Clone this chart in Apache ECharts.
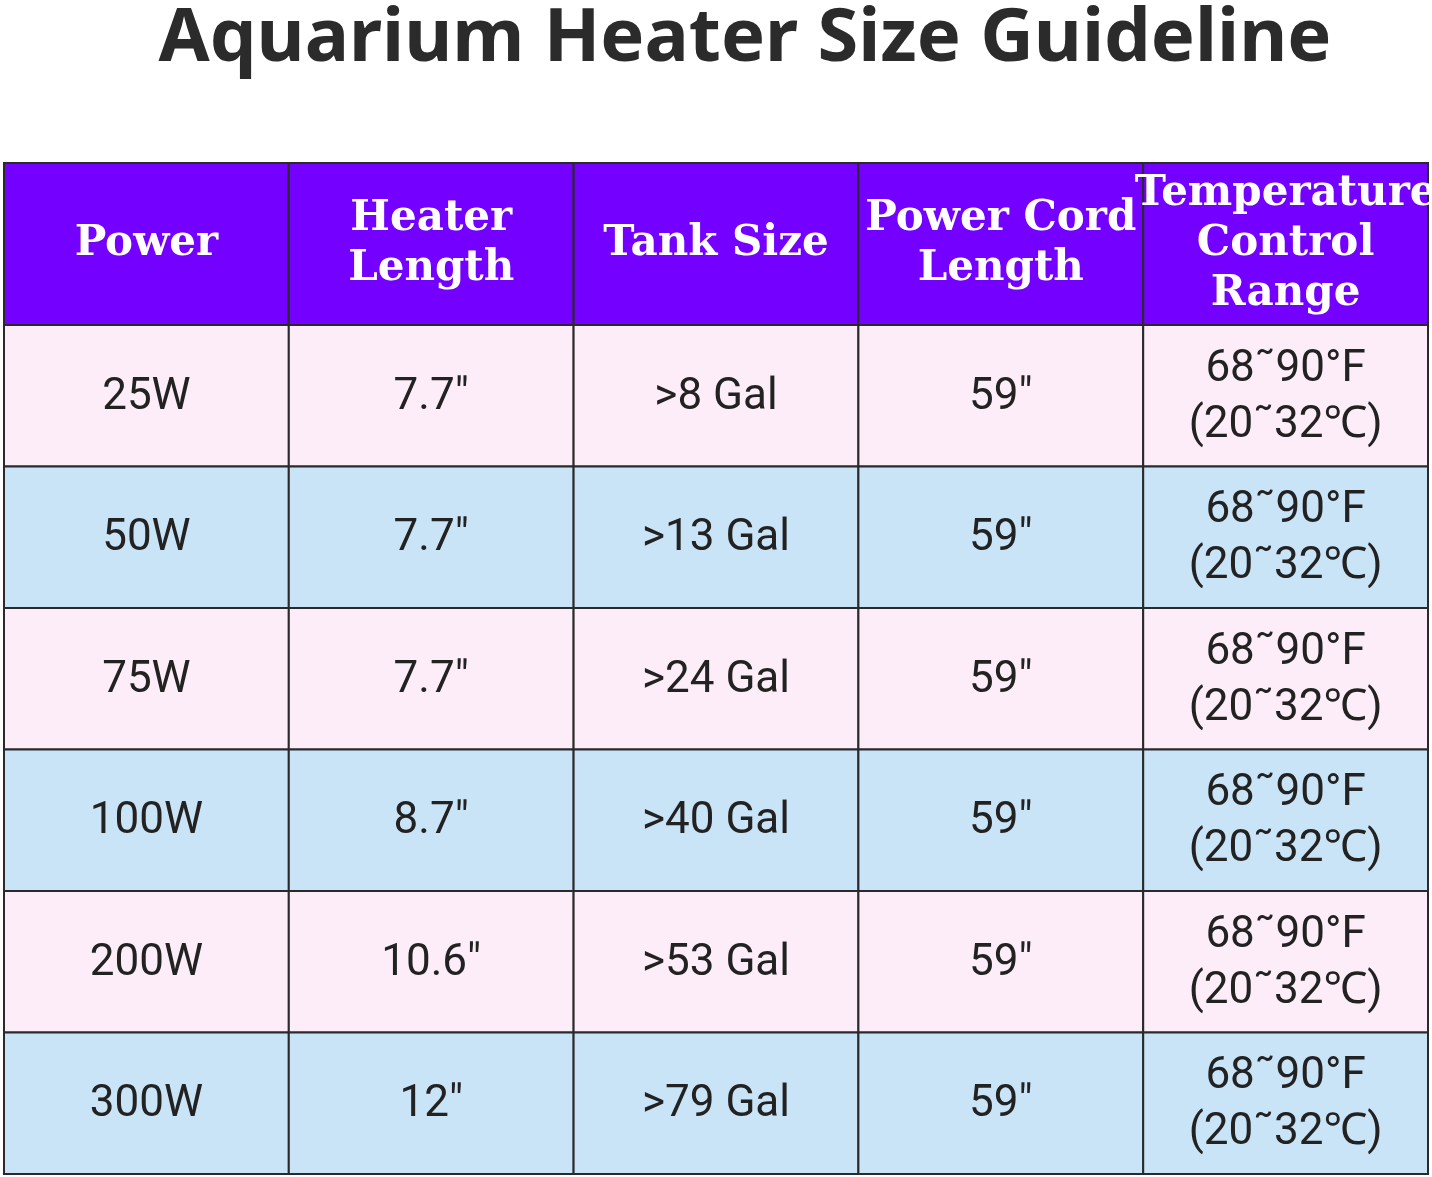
<!DOCTYPE html>
<html><head><meta charset="utf-8">
<style>html,body{margin:0;padding:0;background:#fff}#c{width:1432px;height:1177px}</style>
<script src="https://cdn.jsdelivr.net/npm/echarts@6/dist/echarts.min.js"></script>
</head><body><div id="c"></div>
<script>
const headers = ["Power", "Heater\nLength", "Tank Size", "Power Cord\nLength", "Temperature\nControl\nRange"];
const power = ["25W", "50W", "75W", "100W", "200W", "300W"];
const heaterLength = ['7.7"', '7.7"', '7.7"', '8.7"', '10.6"', '12"'];
const tankSize = [">8 Gal", ">13 Gal", ">24 Gal", ">40 Gal", ">53 Gal", ">79 Gal"];
const cordLength = ['59"', '59"', '59"', '59"', '59"', '59"'];
const tempRange = ["68˜90°F\n(20˜32℃)", "68˜90°F\n(20˜32℃)", "68˜90°F\n(20˜32℃)", "68˜90°F\n(20˜32℃)", "68˜90°F\n(20˜32℃)", "68˜90°F\n(20˜32℃)"];

const columns = [power, heaterLength, tankSize, cordLength, tempRange];
const colIdx = [0,1,2,3,4];
const rowIdx = power.map((_, i) => i);

const headerData = headers.map((h, c) => [c, 0, h]);
const bodyData = [];
columns.forEach((col, c) => col.forEach((v, r) => bodyData.push([c, r, v])));

function cellRenderer(isHeader) {
  return function (params, api) {
    const c = api.value(0), r = api.value(1);
    const txt = isHeader ? headerData[params.dataIndex][2] : bodyData[params.dataIndex][2];
    const p = api.coord([c, r]);
    const s = api.size([1, 1]);
    const fill = isHeader ? '#7400ff' : (r % 2 === 0 ? '#fcedf9' : '#c9e3f7');
    return {
      type: 'group',
      children: [
        { type: 'rect', shape: { x: p[0] - s[0] / 2, y: p[1] - s[1] / 2, width: s[0], height: s[1] },
          style: { fill: fill, stroke: '#2a2a2a', lineWidth: 2 } },
        { type: 'text', x: p[0], y: p[1] + (isHeader ? 0 : 2),
          style: isHeader ? {
            text: txt, fill: '#fff', align: 'center', verticalAlign: 'middle',
            font: 'bold 42px "DejaVu Serif", "Liberation Serif", serif', lineHeight: 50
          } : {
            text: txt, fill: '#222', align: 'center', verticalAlign: 'middle',
            font: '44px "Roboto", "Noto Sans", sans-serif', lineHeight: 56
          } }
      ]
    };
  };
}

const chart = echarts.init(document.getElementById('c'));
chart.setOption({
  animation: false,
  title: { text: 'Aquarium Heater Size Guideline', left: 740, textAlign: 'center', top: -2,
    textStyle: { fontSize: 74, fontWeight: 'bold', color: '#2b2b2b', fontFamily: '"Noto Sans", "Open Sans", sans-serif' } },
  grid: [
    { left: 4, width: 1424, top: 163, height: 162 },
    { left: 4, width: 1424, top: 325, height: 849 }
  ],
  xAxis: [
    { type: 'category', gridIndex: 0, data: colIdx, show: false },
    { type: 'category', gridIndex: 1, data: colIdx, show: false }
  ],
  yAxis: [
    { type: 'category', gridIndex: 0, data: [0], show: false, inverse: true },
    { type: 'category', gridIndex: 1, data: rowIdx, show: false, inverse: true }
  ],
  series: [
    { type: 'custom', xAxisIndex: 0, yAxisIndex: 0, renderItem: cellRenderer(true), data: headerData.map(d => [d[0], d[1]]) },
    { type: 'custom', xAxisIndex: 1, yAxisIndex: 1, renderItem: cellRenderer(false), data: bodyData.map(d => [d[0], d[1]]) }
  ]
});
</script></body></html>
